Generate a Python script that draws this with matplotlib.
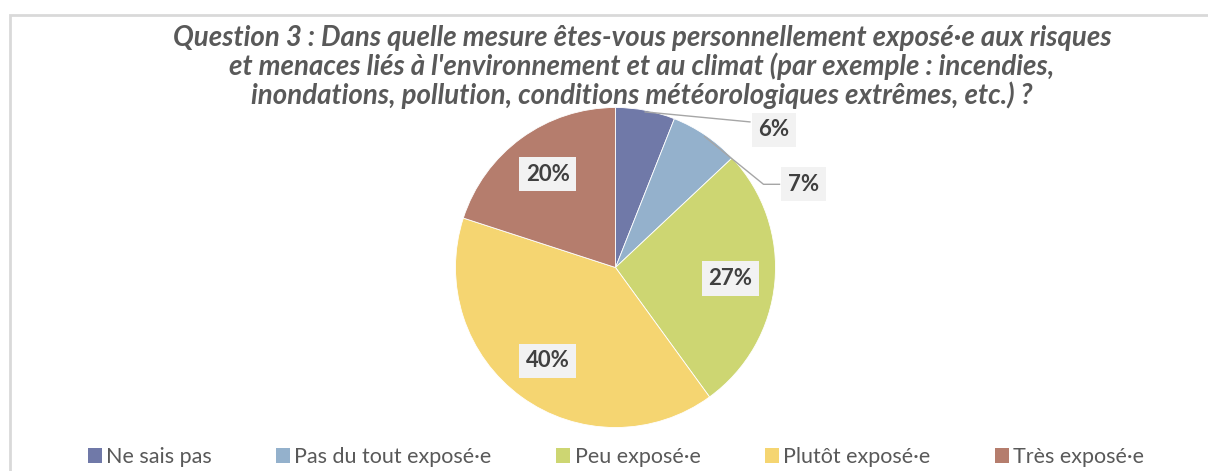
import matplotlib
matplotlib.use("Agg")
import matplotlib.pyplot as plt
from matplotlib.patches import Patch, Rectangle
import numpy as np

# data
categories = ["Ne sais pas", "Pas du tout exposé·e", "Peu exposé·e",
              "Plutôt exposé·e", "Très exposé·e"]
shares = [6, 7, 27, 40, 20]
colors = ["#7079A8", "#94B1CC", "#CDD672", "#F5D571", "#B57D6D"]
title = ("Question 3 : Dans quelle mesure êtes-vous personnellement exposé·e aux risques\n"
         "et menaces liés à l'environnement et au climat (par exemple : incendies,\n"
         "inondations, pollution, conditions météorologiques extrêmes, etc.) ?")

plt.rcParams['font.family'] = ['Lato', 'DejaVu Sans']
W, H = 1208, 471
fig = plt.figure(figsize=(W / 100, H / 100), dpi=100)
fig.patch.set_facecolor('white')

# light frame around the chart area
fig.add_artist(Rectangle((10 / W, -0.2), 1.2, (H - 15) / H + 0.2,
                         transform=fig.transFigure, fill=False,
                         edgecolor='#D9D9D9', linewidth=2))

fig.text(0.5 + 38 / W, 1 - 67 / H, title, ha='center', va='center',
         fontsize=19.9, fontweight='bold', style='italic', color='#595959',
         linespacing=1.08)

# pie axes: center (615, 267), radius 160 px
cx, cy, r = 615.5, 267.5, 160
ax = fig.add_axes([(cx - r) / W, (H - cy - r) / H, 2 * r / W, 2 * r / H])
wedges, _ = ax.pie(shares, colors=colors, startangle=90, counterclock=False,
                   radius=1, wedgeprops=dict(edgecolor='#FFFFFF', linewidth=0.6))
ax.set_xlim(-1, 1)
ax.set_ylim(-1, 1)
ax.set_aspect('equal')
ax.axis('off')

box = dict(boxstyle='square,pad=0.3', facecolor='#F2F2F2', edgecolor='none')
lab_kw = dict(fontsize=16, fontweight='bold', color='#404040',
              ha='center', va='center', bbox=box)

# inner labels
for w, s in zip(wedges[2:], shares[2:]):
    ang = np.deg2rad((w.theta1 + w.theta2) / 2)
    ax.text(0.72 * np.cos(ang), 0.72 * np.sin(ang), f"{s}%", **lab_kw)

# outer labels with leader lines (6% and 7%)
outer = [(wedges[0], shares[0], (0.99, 0.86), False),
         (wedges[1], shares[1], (1.175, 0.52), True)]
for w, s, (tx, ty), elbow in outer:
    ang = np.deg2rad((w.theta1 + w.theta2) / 2)
    x0, y0 = 0.99 * np.cos(ang), 0.99 * np.sin(ang)
    if elbow:
        ex = tx - 0.25
        ax.plot([x0, ex, tx - 0.15], [y0, ty, ty], color='#A6A6A6', lw=1,
                clip_on=False)
    else:
        ax.plot([x0, tx - 0.15], [y0, ty + 0.05], color='#A6A6A6', lw=1,
                clip_on=False)
    ax.text(tx, ty, f"{s}%", clip_on=False, **lab_kw)

handles = [Patch(facecolor=c, edgecolor='none') for c in colors]
fig.legend(handles, categories, loc='center', bbox_to_anchor=(616 / W, 1 - 457 / H),
           ncol=5, frameon=False, fontsize=15.5, labelcolor='#595959',
           handlelength=0.65, handleheight=0.65, handletextpad=0.2,
           columnspacing=3.0, borderpad=0)

fig.savefig("out.png", dpi=100, facecolor='white')
